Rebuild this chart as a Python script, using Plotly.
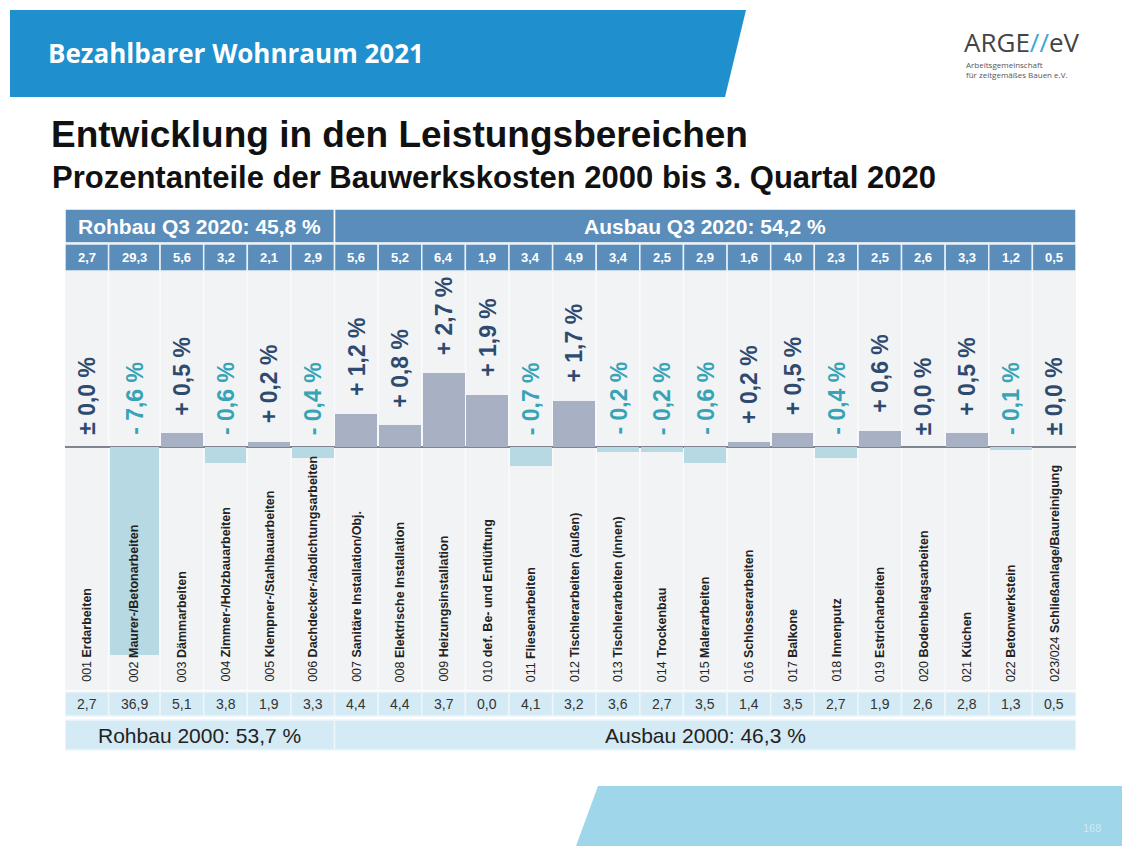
import numpy as np
import plotly.graph_objects as go

# ---------------- data ----------------
codes = ["001", "002", "003", "004", "005", "006", "007", "008", "009", "010", "011", "012",
         "013", "014", "015", "016", "017", "018", "019", "020", "021", "022", "023/024"]
names = ["Erdarbeiten", "Maurer-/Betonarbeiten", "Dämmarbeiten", "Zimmer-/Holzbauarbeiten",
         "Klempner-/Stahlbauarbeiten", "Dachdecker-/abdichtungsarbeiten",
         "Sanitäre Installation/Obj.", "Elektrische Installation", "Heizungsinstallation",
         "def. Be- und Entlüftung", "Fliesenarbeiten", "Tischlerarbeiten (außen)",
         "Tischlerarbeiten (innen)", "Trockenbau", "Malerarbeiten", "Schlosserarbeiten",
         "Balkone", "Innenputz", "Estricharbeiten", "Bodenbelagsarbeiten", "Küchen",
         "Betonwerkstein", "Schließanlage/Baureinigung"]
share_q3_2020 = [2.7, 29.3, 5.6, 3.2, 2.1, 2.9, 5.6, 5.2, 6.4, 1.9, 3.4, 4.9,
                 3.4, 2.5, 2.9, 1.6, 4.0, 2.3, 2.5, 2.6, 3.3, 1.2, 0.5]
share_2000 = [2.7, 36.9, 5.1, 3.8, 1.9, 3.3, 4.4, 4.4, 3.7, 0.0, 4.1, 3.2,
              3.6, 2.7, 3.5, 1.4, 3.5, 2.7, 1.9, 2.6, 2.8, 1.3, 0.5]
change = [0.0, -7.6, 0.5, -0.6, 0.2, -0.4, 1.2, 0.8, 2.7, 1.9, -0.7, 1.7,
          -0.2, -0.2, -0.6, 0.2, 0.5, -0.4, 0.6, 0.0, 0.5, -0.1, 0.0]
n_rohbau = 6
rohbau_q3, ausbau_q3 = 45.8, 54.2
rohbau_2000, ausbau_2000 = 53.7, 46.3

# column widths (layout: column 002 is drawn a bit wider in the original)
col_width = np.array([1.0, 1.18] + [1.0] * 21)
right_edges = np.cumsum(col_width)
left_edges = right_edges - col_width
centers = (left_edges + right_edges) / 2

W, H = 1122, 846
FONT = "Liberation Sans, Arial, sans-serif"


def fx(px):
    return px / W


def fy(py):
    return 1 - py / H


def de(v):
    return f"{abs(v):.1f}".replace(".", ",")


POS_BAR = "#A8B1C3"
NEG_BAR = "#B6D9E3"
POS_TXT = "#2E4A6E"
NEG_TXT = "#36A3B6"
HEAD = "#5A8DBA"
LIGHT = "#D4EAF4"

fig = go.Figure()
fig.add_trace(go.Bar(
    x=centers, y=change, width=col_width * 0.96,
    marker=dict(color=[POS_BAR if v > 0 else NEG_BAR for v in change], line=dict(width=0)),
    hoverinfo="skip", showlegend=False,
))

shapes = []
annotations = []

# ---- slide decoration ----
shapes.append(dict(type="path", xref="paper", yref="paper",
                   path=f"M {fx(10)},{fy(10)} L {fx(746)},{fy(10)} L {fx(725)},{fy(97)} L {fx(10)},{fy(97)} Z",
                   fillcolor="#1F8FCD", line=dict(width=0), layer="below"))
shapes.append(dict(type="path", xref="paper", yref="paper",
                   path=f"M {fx(598)},{fy(786)} L {fx(1122)},{fy(786)} L {fx(1122)},{fy(846)} L {fx(576)},{fy(846)} Z",
                   fillcolor="#9FD6EA", line=dict(width=0), layer="below"))
annotations.append(dict(text="<b>Bezahlbarer Wohnraum 2021</b>", x=fx(46), y=fy(53), xref="paper", yref="paper",
                        xanchor="left", yanchor="middle", showarrow=False,
                        font=dict(family="Open Sans, sans-serif", size=26, color="white")))
annotations.append(dict(text="ARGE<span style='color:#3AA8D4'>//</span>eV", x=fx(962), y=fy(42),
                        xref="paper", yref="paper", xanchor="left", yanchor="middle", showarrow=False,
                        font=dict(family="Open Sans, sans-serif", size=26, color="#444444")))
annotations.append(dict(text="Arbeitsgemeinschaft<br>für zeitgemäßes Bauen e.V.", x=fx(964), y=fy(57),
                        xref="paper", yref="paper", xanchor="left", yanchor="top", showarrow=False, align="left",
                        font=dict(family="Open Sans, sans-serif", size=8, color="#555555")))
annotations.append(dict(text="<b>Entwicklung in den Leistungsbereichen</b>", x=fx(49), y=fy(135),
                        xref="paper", yref="paper", xanchor="left", yanchor="middle", showarrow=False,
                        font=dict(family=FONT, size=37, color="#111111")))
annotations.append(dict(text="<b>Prozentanteile der Bauwerkskosten 2000 bis 3. Quartal 2020</b>", x=fx(50), y=fy(177),
                        xref="paper", yref="paper", xanchor="left", yanchor="middle", showarrow=False,
                        font=dict(family=FONT, size=31, color="#111111")))
annotations.append(dict(text="168", x=fx(1092), y=fy(828), xref="paper", yref="paper",
                        xanchor="center", yanchor="middle", showarrow=False,
                        font=dict(family=FONT, size=11, color="#CDEAF5")))

# ---- header rows ----
x0, xs, x1 = left_edges[0], right_edges[n_rohbau - 1], right_edges[-1]
for a, b, label in [(x0, xs, f"Rohbau Q3 2020: {de(rohbau_q3)} %"), (xs, x1, f"Ausbau Q3 2020: {de(ausbau_q3)} %")]:
    shapes.append(dict(type="rect", xref="x", yref="paper", x0=a, x1=b, y0=fy(243), y1=fy(209),
                       fillcolor=HEAD, line=dict(color="white", width=1.5)))
    annotations.append(dict(text=f"<b>{label}</b>", x=(a + b) / 2, y=fy(226), xref="x", yref="paper",
                            xanchor="center", yanchor="middle", showarrow=False,
                            font=dict(family=FONT, size=21, color="white")))
for i in range(len(codes)):
    shapes.append(dict(type="rect", xref="x", yref="paper", x0=left_edges[i], x1=right_edges[i],
                       y0=fy(271), y1=fy(244), fillcolor=HEAD, line=dict(color="#E8F1F8", width=1.5)))
    annotations.append(dict(text=f"<b>{de(share_q3_2020[i])}</b>", x=centers[i], y=fy(257.5), xref="x",
                            yref="paper", xanchor="center", yanchor="middle", showarrow=False,
                            font=dict(family=FONT, size=13, color="white")))

# ---- column separators in plot area ----
for e in right_edges[:-1]:
    shapes.append(dict(type="line", xref="x", yref="paper", x0=e, x1=e, y0=fy(690), y1=fy(272),
                       line=dict(color="#FAFBFC", width=1.5), layer="below"))

# ---- bottom rows ----
for i in range(len(codes)):
    shapes.append(dict(type="rect", xref="x", yref="paper", x0=left_edges[i], x1=right_edges[i],
                       y0=fy(716), y1=fy(692), fillcolor=LIGHT, line=dict(color="#EEF6FA", width=1.5)))
    annotations.append(dict(text=de(share_2000[i]), x=centers[i], y=fy(704), xref="x",
                            yref="paper", xanchor="center", yanchor="middle", showarrow=False,
                            font=dict(family=FONT, size=14, color="#333333")))
for a, b, label in [(x0, xs, f"Rohbau 2000: {de(rohbau_2000)} %"), (xs, x1, f"Ausbau 2000: {de(ausbau_2000)} %")]:
    shapes.append(dict(type="rect", xref="x", yref="paper", x0=a, x1=b, y0=fy(750), y1=fy(720),
                       fillcolor=LIGHT, line=dict(color="#EEF6FA", width=1.5)))
    annotations.append(dict(text=label, x=(a + b) / 2, y=fy(735), xref="x", yref="paper",
                            xanchor="center", yanchor="middle", showarrow=False,
                            font=dict(family=FONT, size=21, color="#222222")))

# ---- category labels ----
for i in range(len(codes)):
    annotations.append(dict(text=f"{codes[i]} <b>{names[i]}</b>", x=centers[i], y=fy(684), xref="x",
                            yref="paper", xanchor="center", yanchor="bottom", textangle=-90,
                            showarrow=False, font=dict(family=FONT, size=12.5, color="#222222")))

# ---- change labels ----
for i, v in enumerate(change):
    if v > 0:
        txt, col, base, shift = f"+ {de(v)} %", POS_TXT, v, 16
    elif v < 0:
        txt, col, base, shift = f"- {de(v)} %", NEG_TXT, 0, 10
    else:
        txt, col, base, shift = f"± {de(v)} %", POS_TXT, 0, 10
    annotations.append(dict(text=f"<b>{txt}</b>", x=centers[i], y=base, xref="x", yref="y",
                            xanchor="center", yanchor="bottom", yshift=shift, textangle=-90,
                            showarrow=False, font=dict(family=FONT, size=23, color=col)))

fig.update_layout(
    width=W, height=H, autosize=False,
    margin=dict(l=0, r=0, t=0, b=0),
    paper_bgcolor="white", plot_bgcolor="#F1F3F5",
    bargap=0, shapes=shapes, annotations=annotations,
    xaxis=dict(domain=[fx(65), fx(1076)], range=[left_edges[0], right_edges[-1]],
               showgrid=False, zeroline=False, showticklabels=False, ticks="", fixedrange=True),
    yaxis=dict(domain=[fy(690), fy(272)], range=[-8.90, 6.41], showgrid=False,
               zeroline=True, zerolinecolor="#7E858F", zerolinewidth=2,
               showticklabels=False, ticks="", fixedrange=True),
)

fig.write_html("out.html", config={"displayModeBar": False},
               post_script="document.body.style.margin='0';document.body.style.overflow='hidden';")
